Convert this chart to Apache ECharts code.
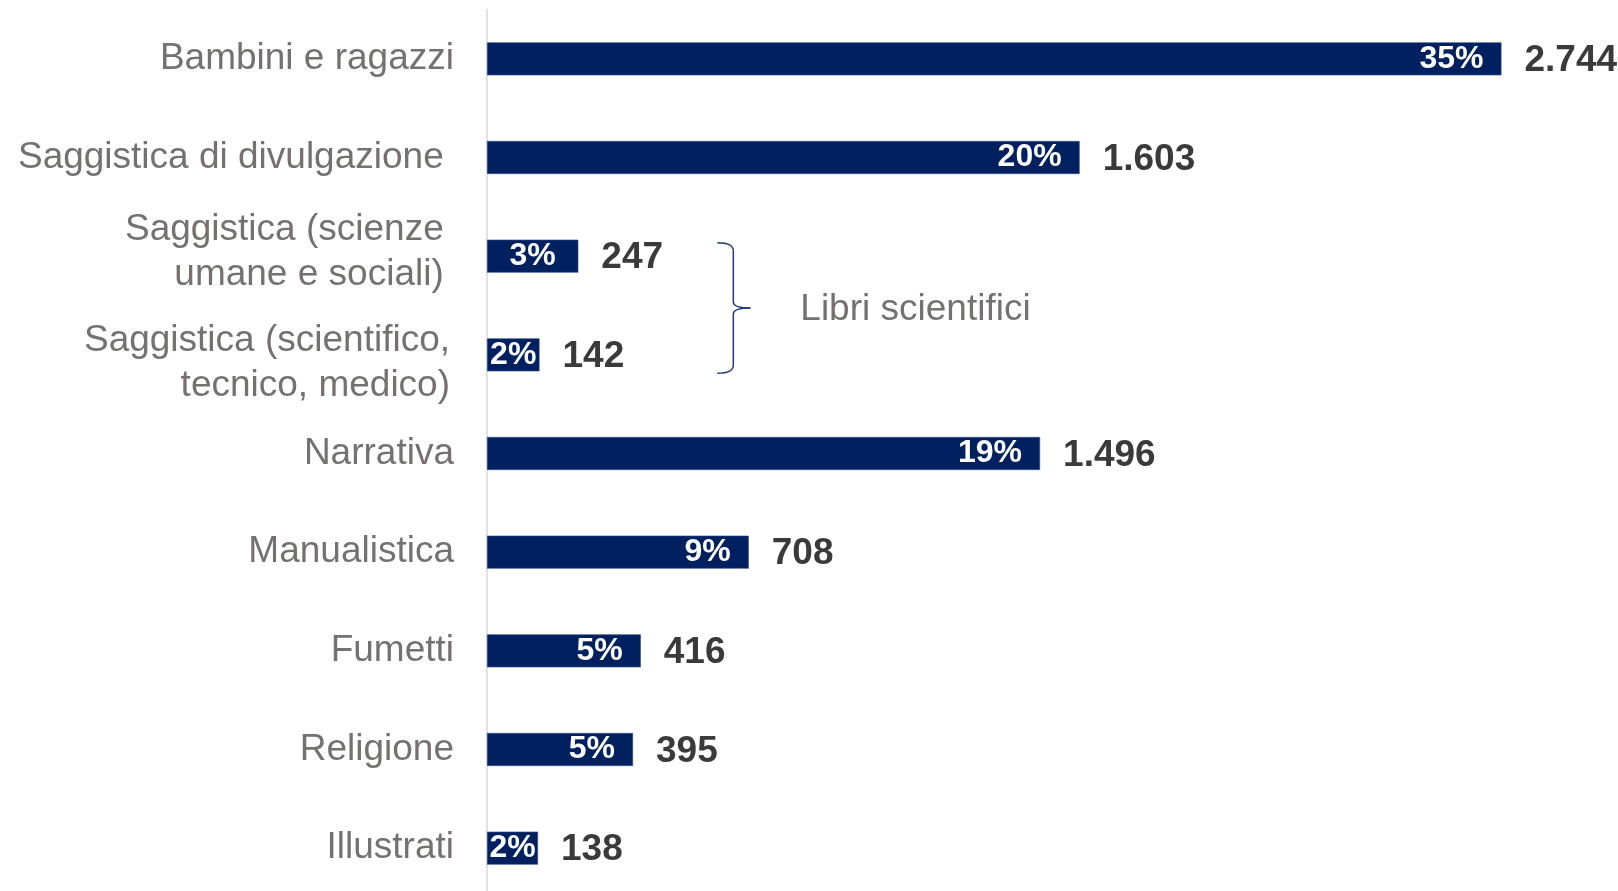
<!DOCTYPE html>
<html>
<head>
<meta charset="utf-8">
<script src="https://cdn.jsdelivr.net/npm/echarts@6/dist/echarts.min.js"></script>
<style>
  html, body { margin: 0; padding: 0; background: #ffffff; width: 1618px; height: 891px; overflow: hidden; }
  #chart { width: 1618px; height: 900px; }
</style>
</head>
<body>
<div id="chart"></div>
<script>
// ---- data ----
const categories = [
  'Bambini e ragazzi',
  'Saggistica di divulgazione ',
  'Saggistica (scienze \numane e sociali) ',
  'Saggistica (scientifico,\ntecnico, medico)',
  'Narrativa',
  'Manualistica',
  'Fumetti',
  'Religione',
  'Illustrati'
];
const titles = [2744, 1603, 247, 142, 1496, 708, 416, 395, 138];
const shares = [35, 20, 3, 2, 19, 9, 5, 5, 2];
const groupLabel = 'Libri scientifici';
const groupFrom = 2, groupTo = 3;

// ---- chart ----
const NAVY = '#002060';
const FONT = 'Liberation Sans, Arial, sans-serif';
const fmtThousands = v => String(v).replace(/\B(?=(\d{3})+(?!\d))/g, '.');
const X_MAX = 3000, GRID_W = 1109.1;
const BAR_W = 33;

// small vertical nudges of the wrapped category labels, as in the original layout
const yData = categories.map((c, i) =>
  i === 3 ? { value: c, textStyle: { padding: [0, 4, 0, 0] } } : c
);
const labelFormatter = (value, index) => {
  if (index === 2) return value + '\n{sp8| }';
  if (index === 3) return '{sp16| }\n' + value;
  return value;
};

const chart = echarts.init(document.getElementById('chart'), null, { renderer: 'canvas' });
chart.setOption({
  animation: false,
  backgroundColor: '#ffffff',
  grid: { left: 487, top: 9.5, width: GRID_W, height: 888, containLabel: false },
  xAxis: { type: 'value', min: 0, max: X_MAX, show: false },
  yAxis: {
    type: 'category',
    data: yData,
    inverse: true,
    axisTick: { show: false },
    axisLine: { show: true, lineStyle: { color: '#D9D9D9', width: 1.5 } },
    axisLabel: {
      margin: 33,
      fontSize: 37,
      lineHeight: 45,
      color: '#767171',
      fontFamily: FONT,
      align: 'right',
      formatter: labelFormatter,
      rich: {
        sp8: { fontSize: 4, lineHeight: 8 },
        sp16: { fontSize: 4, lineHeight: 16 }
      }
    },
    splitLine: { show: false }
  },
  series: [
    {
      type: 'bar',
      data: titles,
      barWidth: BAR_W,
      itemStyle: { color: NAVY, borderColor: '#2F4F8A', borderWidth: 0.6 },
      label: {
        show: true,
        position: 'right',
        distance: 23,
        offset: [0, 2],
        fontSize: 37,
        fontWeight: 'bold',
        color: '#3A3A3A',
        fontFamily: FONT,
        formatter: p => fmtThousands(p.value)
      },
      z: 2
    },
    {
      type: 'bar',
      barWidth: BAR_W,
      barGap: '-100%',
      data: titles.map(v => {
        const px = v / X_MAX * GRID_W;
        return px < 120
          ? { value: v, label: { position: 'inside' } }
          : { value: v };
      }),
      itemStyle: { color: 'rgba(0,0,0,0)' },
      label: {
        show: true,
        position: 'insideRight',
        distance: 18,
        fontSize: 32,
        fontWeight: 'bold',
        color: '#ffffff',
        fontFamily: FONT,
        formatter: p => shares[p.dataIndex] + '%'
      },
      z: 3
    }
  ]
});

// bracket annotation for the grouped categories
const yTop = chart.convertToPixel({ yAxisIndex: 0 }, categories[groupFrom]) - BAR_W / 2 + 3;
const yBot = chart.convertToPixel({ yAxisIndex: 0 }, categories[groupTo]) + BAR_W / 2 + 2;
const yMid = (yTop + yBot) / 2;
const xL = chart.convertToPixel({ xAxisIndex: 0 }, 623);
const xV = xL + 16, xT = xL + 33;
const braceStyle = { fill: 'none', stroke: '#1F3A73', lineWidth: 1.5 };
chart.setOption({
  graphic: [
    { type: 'bezierCurve', shape: { x1: xL, y1: yTop, x2: xV, y2: yTop + 8, cpx1: xV, cpy1: yTop }, style: braceStyle },
    { type: 'line', shape: { x1: xV, y1: yTop + 8, x2: xV, y2: yMid - 6 }, style: braceStyle },
    { type: 'bezierCurve', shape: { x1: xV, y1: yMid - 6, x2: xT, y2: yMid, cpx1: xV, cpy1: yMid }, style: braceStyle },
    { type: 'bezierCurve', shape: { x1: xT, y1: yMid, x2: xV, y2: yMid + 6, cpx1: xV, cpy1: yMid }, style: braceStyle },
    { type: 'line', shape: { x1: xV, y1: yMid + 6, x2: xV, y2: yBot - 8 }, style: braceStyle },
    { type: 'bezierCurve', shape: { x1: xV, y1: yBot - 8, x2: xL, y2: yBot, cpx1: xV, cpy1: yBot }, style: braceStyle },
    {
      type: 'text',
      x: xT + 50,
      y: yMid + 2,
      style: {
        text: groupLabel,
        fontSize: 37,
        fontFamily: FONT,
        fill: '#767171',
        verticalAlign: 'middle'
      }
    }
  ]
});
</script>
</body>
</html>
